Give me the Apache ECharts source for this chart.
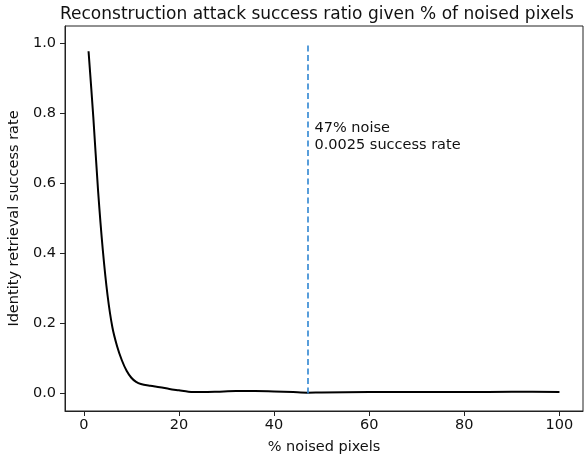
<!DOCTYPE html>
<html>
<head>
<meta charset="utf-8">
<script src="https://cdn.jsdelivr.net/npm/echarts@6/dist/echarts.min.js"></script>
<style>
  html, body { margin: 0; padding: 0; background: #fff; }
  #main { width: 587px; height: 461px; }
</style>
</head>
<body>
<div id="main"></div>
<script>
// % of noised pixels and the matching success rate
var noisePct = [1, 2, 3, 4, 5, 6, 7, 8, 9, 10, 11, 12, 14, 16, 18, 20, 22, 25, 28, 32, 36, 40, 44, 47, 50, 60, 70, 80, 90, 100];
var successRate = [0.978, 0.79, 0.58, 0.41, 0.28, 0.19, 0.135, 0.095, 0.065, 0.045, 0.033, 0.027, 0.022, 0.018, 0.013, 0.009, 0.005, 0.004, 0.005, 0.007, 0.007, 0.006, 0.004, 0.0025, 0.003, 0.004, 0.004, 0.004, 0.005, 0.004];
var xTicks = [0, 20, 40, 60, 80, 100];
var yTicks = [0, 0.2, 0.4, 0.6, 0.8, 1.0];
var markX = 47;
var noteText = '47% noise\n0.0025 success rate';

var font = 'DejaVu Sans';
var myChart = echarts.init(document.getElementById('main'));

var points = noisePct.map(function (x, i) { return [x, successRate[i]]; });

myChart.setOption({
  animation: false,
  title: {
    text: 'Reconstruction attack success ratio given % of noised pixels',
    left: 55,
    top: 1,
    textStyle: { fontFamily: font, fontSize: 17, fontWeight: 'normal', color: '#111' }
  },
  grid: {
    left: 65,
    right: 4,
    top: 26,
    bottom: 50,
    outerBoundsMode: 'none',
    containLabel: false,
    show: true,
    borderColor: '#222',
    borderWidth: 1
  },
  xAxis: {
    type: 'value',
    min: -3.95,
    max: 104.95,
    name: '% noised pixels',
    nameLocation: 'middle',
    nameGap: 29,
    nameTextStyle: { fontFamily: font, fontSize: 14.5, color: '#111' },
    axisLine: { show: true, onZero: false, lineStyle: { color: '#222' } },
    axisTick: { show: true, length: 5, customValues: xTicks, lineStyle: { color: '#222' } },
    axisLabel: { customValues: xTicks, margin: 7, fontFamily: font, fontSize: 14.5, color: '#111' },
    splitLine: { show: false }
  },
  yAxis: {
    type: 'value',
    min: -0.05,
    max: 1.05,
    name: 'Identity retrieval success rate',
    nameLocation: 'middle',
    nameGap: 42,
    nameTextStyle: { fontFamily: font, fontSize: 14.5, color: '#111' },
    axisLine: { show: true, onZero: false, lineStyle: { color: '#222' } },
    axisTick: { show: true, length: 5, customValues: yTicks, lineStyle: { color: '#222' } },
    axisLabel: {
      customValues: yTicks,
      margin: 9,
      fontFamily: font,
      fontSize: 14.5,
      color: '#111',
      formatter: function (v) { return v.toFixed(1); }
    },
    splitLine: { show: false }
  },
  series: [{
    type: 'line',
    data: points,
    smooth: 0.3,
    symbol: 'none',
    lineStyle: { color: '#000', width: 2 },
    markLine: {
      silent: true,
      symbol: 'none',
      label: { show: false },
      lineStyle: { color: '#2f86d2', width: 1.6, type: [6, 3.5] },
      data: [[{ coord: [markX, 0] }, { coord: [markX, 1] }]]
    },
    markPoint: {
      silent: true,
      symbol: 'circle',
      symbolSize: 0,
      data: [{
        coord: [48.5, 0.735],
        label: {
          show: true,
          position: 'right',
          distance: 0,
          formatter: noteText,
          align: 'left',
          fontFamily: font,
          fontSize: 14.5,
          lineHeight: 17,
          color: '#111'
        }
      }]
    }
  }]
});
</script>
</body>
</html>
